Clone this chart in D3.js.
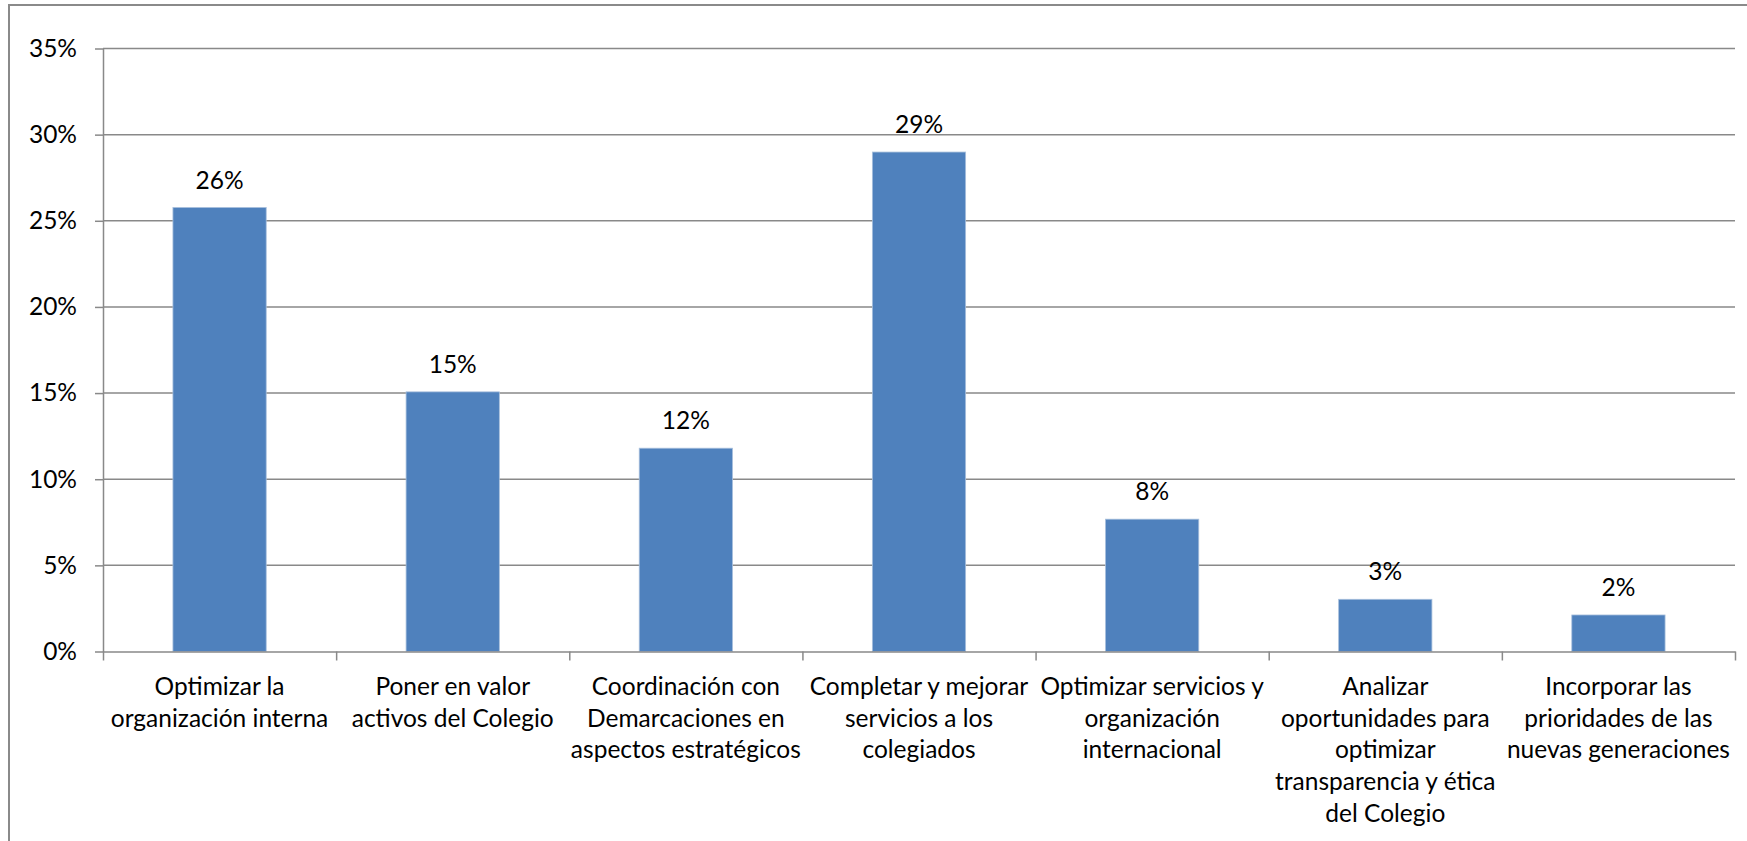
<!DOCTYPE html>
<html lang="es">
<head>
  <meta charset="UTF-8" />
  <title>Prioridades</title>
  <script src="https://d3js.org/d3.v7.min.js"></script>
  <style>
    html, body {
      margin: 0;
      padding: 0;
      background: #ffffff;
    }
    svg text {
      font-family: Lato, 'Open Sans', sans-serif;
      font-size: 24.5px;
      fill: #000;
    }
    .grid line {
      stroke: #898989;
      stroke-width: 1.5;
    }
    .axis path, .axis line {
      stroke: #898989;
      stroke-width: 1.5;
    }
  </style>
</head>
<body>
  <div id="chart"></div>

  <script>
    // category labels, already split into lines as in the picture
    const categories = [
      ["Optimizar la", "organización interna"],
      ["Poner en valor", "activos del Colegio"],
      ["Coordinación con", "Demarcaciones en", "aspectos estratégicos"],
      ["Completar y mejorar", "servicios a los", "colegiados"],
      ["Optimizar servicios y", "organización", "internacional"],
      ["Analizar", "oportunidades para", "optimizar", "transparencia y ética", "del Colegio"],
      ["Incorporar las", "prioridades de las", "nuevas generaciones"]
    ];
    const values = [0.2577, 0.1507, 0.1180, 0.2899, 0.0768, 0.0303, 0.0212];
    const valueLabels = ["26%", "15%", "12%", "29%", "8%", "3%", "2%"];
    const yTicks = [0, 0.05, 0.10, 0.15, 0.20, 0.25, 0.30, 0.35];

    const svgWidth = 1747;
    const svgHeight = 841;
    const plot = { left: 103, right: 1735, top: 48.5, bottom: 651.5 };

    const svg = d3.select("#chart")
      .append("svg")
      .attr("width", svgWidth)
      .attr("height", svgHeight);

    // outer chart border
    svg.append("rect")
      .attr("x", 9)
      .attr("y", 5)
      .attr("width", svgWidth + 20)
      .attr("height", svgHeight + 20)
      .attr("fill", "none")
      .attr("stroke", "#8a8a8a")
      .attr("stroke-width", 2);

    const idx = d3.range(categories.length);

    const x = d3.scaleBand()
      .domain(idx)
      .range([plot.left, plot.right])
      .paddingInner(0.6)
      .paddingOuter(0.3);

    const xEdges = d3.scaleLinear()
      .domain([0, categories.length])
      .range([plot.left, plot.right]);

    const y = d3.scaleLinear()
      .domain([0, 0.35])
      .range([plot.bottom, plot.top]);

    // gridlines
    svg.append("g")
      .attr("class", "grid")
      .selectAll("line")
      .data(yTicks.filter(d => d > 0))
      .enter()
      .append("line")
      .attr("x1", plot.left)
      .attr("x2", plot.right)
      .attr("y1", d => y(d))
      .attr("y2", d => y(d));

    // y axis
    const yAxis = svg.append("g")
      .attr("class", "axis")
      .attr("transform", `translate(${plot.left},0)`)
      .call(d3.axisLeft(y).tickValues(yTicks).tickFormat(d3.format(".0%")).tickSize(8).tickSizeOuter(0));
    yAxis.selectAll("text")
      .attr("x", -26)
      .style("font-size", "24.5px")
      .style("font-family", "Lato, 'Open Sans', sans-serif");

    // bars
    svg.append("g")
      .selectAll("rect")
      .data(values)
      .enter()
      .append("rect")
      .attr("x", (d, i) => x(i))
      .attr("y", d => y(d))
      .attr("width", x.bandwidth())
      .attr("height", d => y(0) - y(d))
      .attr("fill", "#4f81bd")
      .attr("stroke", "#a7bfdc")
      .attr("stroke-width", 0.8);

    // x axis with ticks between categories
    svg.append("g")
      .attr("class", "axis")
      .attr("transform", `translate(0,${plot.bottom})`)
      .call(d3.axisBottom(xEdges).tickValues(d3.range(categories.length + 1)).tickFormat("").tickSize(9).tickSizeOuter(0));

    // data labels
    svg.append("g")
      .selectAll("text")
      .data(values)
      .enter()
      .append("text")
      .attr("x", (d, i) => x(i) + x.bandwidth() / 2)
      .attr("y", d => y(d) - 19)
      .attr("text-anchor", "middle")
      .text((d, i) => valueLabels[i]);

    // category labels
    const catGroups = svg.append("g")
      .selectAll("text")
      .data(categories)
      .enter()
      .append("text")
      .attr("text-anchor", "middle")
      .attr("transform", (d, i) => `translate(${x(i) + x.bandwidth() / 2},695)`);

    catGroups.selectAll("tspan")
      .data(d => d)
      .enter()
      .append("tspan")
      .attr("x", 0)
      .attr("y", (d, j) => j * 31.7)
      .text(d => d);
  </script>
</body>
</html>
